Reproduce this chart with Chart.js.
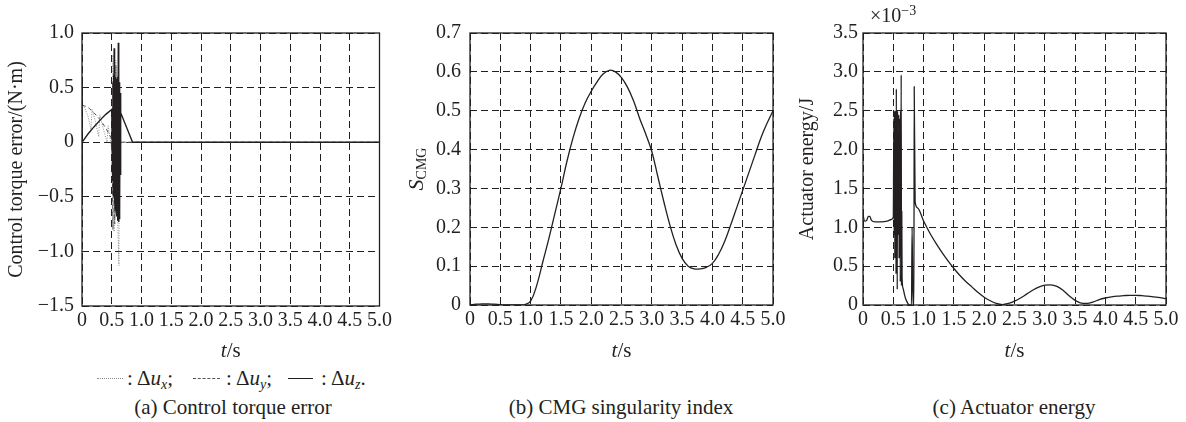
<!DOCTYPE html>
<html>
<head>
<meta charset="utf-8">
<script src="https://cdn.jsdelivr.net/npm/chart.js@4/dist/chart.umd.min.js"></script>
<style>
  body { margin: 0; background: #fff; width: 1186px; height: 422px; position: relative; overflow: hidden;
         font-family: "Liberation Serif", "Times New Roman", Times, "DejaVu Serif", serif; color: #231f20; }
  canvas { position: absolute; top: 0; }
  .cap { position: absolute; top: 395px; font-size: 21px; line-height: 24px; white-space: nowrap; transform: translateX(-50%); }
  .leg { position: absolute; top: 366px; font-size: 21px; line-height: 24px; white-space: nowrap; }
  .leg sub { font-size: 14px; line-height: 0; vertical-align: -4px; }
  .smp { position: absolute; top: 378px; height: 0; }
</style>
</head>
<body>
<canvas id="chartA" width="395" height="360" style="left:0"></canvas>
<canvas id="chartB" width="395" height="360" style="left:395px"></canvas>
<canvas id="chartC" width="396" height="360" style="left:790px"></canvas>

<div class="smp" style="left:97px;width:26px;border-top:1px dotted #8a8a8a"></div>
<div class="leg" style="left:127px">: Δ<i>u</i><sub><i>x</i></sub>;</div>
<div class="smp" style="left:193px;width:27px;border-top:1px dashed #555"></div>
<div class="leg" style="left:226px">: Δ<i>u</i><sub><i>y</i></sub>;</div>
<div class="smp" style="left:288px;width:25px;border-top:1.5px solid #231f20"></div>
<div class="leg" style="left:321px">: Δ<i>u</i><sub><i>z</i></sub>.</div>

<div class="cap" style="left:233px">(a) Control torque error</div>
<div class="cap" style="left:621px">(b) CMG singularity index</div>
<div class="cap" style="left:1014px">(c) Actuator energy</div>

<script>
// tick labels
const xTicks = ['0', '0.5', '1.0', '1.5', '2.0', '2.5', '3.0', '3.5', '4.0', '4.5', '5.0'];
const yTicksA = ['\u22121.5', '\u22121.0', '\u22120.5', '0', '0.5', '1.0'];
const yTicksB = ['0', '0.1', '0.2', '0.3', '0.4', '0.5', '0.6', '0.7'];
const yTicksC = ['0', '0.5', '1.0', '1.5', '2.0', '2.5', '3.0', '3.5'];

// (a) control torque error, N·m
const tUx = [0, 0.05, 0.1, 0.15, 0.17, 0.22, 0.28, 0.3, 0.36, 0.42, 0.44, 0.5, 0.52, 0.54, 0.57, 0.6, 0.62, 0.63, 0.65, 5.0];
const uX  = [0.34, 0.31, 0.24, 0.12, 0.30, 0.2, 0.05, 0.25, 0.12, 0.0, 0.15, -0.07, 0.8, -0.82, 0.75, -0.7, -1.13, 0.3, 0, 0];
const tUy = [0, 0.1, 0.2, 0.3, 0.4, 0.49, 0.505, 0.52, 0.535, 0.55, 0.57, 0.59, 0.61, 0.625, 0.64, 0.86, 5.0];
const uY  = [0.34, 0.32, 0.27, 0.21, 0.13, 0.04, -0.05, -0.8, 0.6, -0.75, 0.7, -0.6, 0.5, -0.4, 0, 0, 0];
const tUz = [0, 0.001, 0.003, 0.1, 0.2, 0.3, 0.4, 0.5,
  0.515, 0.52, 0.525, 0.53, 0.535, 0.54, 0.545, 0.55, 0.555, 0.56, 0.565, 0.57, 0.575, 0.58,
  0.585, 0.59, 0.595, 0.6, 0.605, 0.61, 0.615, 0.62, 0.625, 0.63, 0.635, 0.64, 0.645, 0.655,
  0.85, 5.0];
const uZ  = [0.6, -0.53, 0, 0.075, 0.14, 0.2, 0.255, 0.3,
  -0.35, 0.55, -0.45, 0.62, -0.5, 0.86, -0.55, 0.7, -0.6, 0.6, -0.62, 0.55, -0.65, 0.58,
  -0.68, 0.55, -0.7, 0.6, -0.72, 0.91, -0.73, 0.58, -0.7, 0.55, -0.6, 0.45, -0.3, 0.27,
  0, 0];

// (b) CMG singularity index
const tS = [0, 0.1, 0.2, 0.3, 0.4, 0.5, 0.6, 0.7, 0.8, 0.9, 1.0, 1.1, 1.2, 1.3, 1.4, 1.5, 1.6, 1.7, 1.8, 1.9,
  2.0, 2.1, 2.2, 2.3, 2.4, 2.5, 2.6, 2.7, 2.8, 2.9, 3.0, 3.1, 3.2, 3.3, 3.4, 3.5, 3.6, 3.7, 3.8, 3.9,
  4.0, 4.1, 4.2, 4.3, 4.4, 4.5, 4.6, 4.7, 4.8, 4.9, 5.0];
const sCMG = [0, 0.002, 0.003, 0.003, 0.002, 0.001, 0, 0, 0, 0.001, 0.01, 0.05, 0.11, 0.17, 0.235, 0.30, 0.37, 0.43, 0.48, 0.52,
  0.55, 0.575, 0.595, 0.604, 0.60, 0.585, 0.56, 0.525, 0.48, 0.44, 0.395, 0.33, 0.265, 0.205, 0.155, 0.12, 0.1, 0.093, 0.093, 0.097,
  0.107, 0.13, 0.163, 0.205, 0.25, 0.295, 0.34, 0.385, 0.43, 0.467, 0.50];

// (c) actuator energy, x10^-3 J
const tE = [0, 0.01, 0.03, 0.06, 0.09, 0.11, 0.14, 0.2, 0.3, 0.4, 0.47, 0.5,
  0.51, 0.515, 0.52, 0.525, 0.53, 0.535, 0.54, 0.545, 0.55, 0.555, 0.56, 0.565, 0.57, 0.575, 0.58, 0.585,
  0.59, 0.595, 0.6, 0.605, 0.61, 0.615, 0.62, 0.625, 0.63, 0.635, 0.64, 0.645,
  0.66, 0.68, 0.7, 0.72, 0.74, 0.76, 0.8, 0.81, 0.825, 0.84, 0.845, 0.86, 0.9,
  1.0, 1.1, 1.2, 1.3, 1.4, 1.5, 1.6, 1.7, 1.8, 1.9, 2.0, 2.1, 2.2, 2.3, 2.4, 2.5, 2.6, 2.7, 2.8, 2.9,
  3.0, 3.1, 3.2, 3.3, 3.4, 3.5, 3.6, 3.7, 3.8, 3.9, 4.0, 4.1, 4.2, 4.3, 4.4, 4.5, 4.6, 4.7, 4.8, 4.9, 5.0];
const energy = [1.18, 1.12, 1.08, 1.09, 1.14, 1.14, 1.09, 1.07, 1.07, 1.08, 1.10, 1.13,
  2.4, 0.9, 2.5, 0.6, 2.3, 1.0, 2.5, 0.4, 2.78, 1.0, 2.4, 0.2, 2.5, 0.9, 2.2, 1.1,
  2.45, 0.6, 2.4, 1.0, 2.3, 0.3, 2.5, 0.8, 2.96, 0.25, 1.2, 0.35,
  0.22, 0.15, 0.09, 0.05, 0.02, 0.0, 0.0, 1.0, 0.0, 0.0, 2.81, 1.33, 1.25,
  1.08, 0.93, 0.80, 0.68, 0.57, 0.47, 0.38, 0.30, 0.23, 0.16, 0.10, 0.055, 0.02, 0.005, 0.02, 0.05, 0.09, 0.14, 0.19, 0.23,
  0.255, 0.26, 0.24, 0.19, 0.12, 0.06, 0.025, 0.02, 0.04, 0.07, 0.09, 0.105, 0.115, 0.12, 0.125, 0.125, 0.12, 0.115, 0.105, 0.095, 0.08];

const ink = '#231f20';
const serif = '"Liberation Serif", "Times New Roman", Times, "DejaVu Serif", serif';
const pts = (ts, vs) => ts.map((t, i) => ({ x: t, y: vs[i] }));

// draw a row of text pieces centred on (cx, cy)
function drawRuns(ctx, runs, cx, cy, align) {
  let w = 0;
  runs.forEach(r => {
    ctx.font = (r.i ? 'italic ' : '') + (r.s || 20) + 'px ' + serif;
    r.w = ctx.measureText(r.t).width;
    w += r.w;
  });
  let x = align === 'left' ? cx : cx - w / 2;
  runs.forEach(r => {
    ctx.font = (r.i ? 'italic ' : '') + (r.s || 20) + 'px ' + serif;
    ctx.fillText(r.t, x, cy + (r.dy || 0));
    x += r.w;
  });
}

const frame = {
  id: 'frame',
  afterDraw(chart, args, o) {
    const { ctx, chartArea: a } = chart;
    ctx.save();
    ctx.strokeStyle = ink;
    ctx.lineWidth = 1.3;
    ctx.strokeRect(a.left, a.top, a.right - a.left, a.bottom - a.top);
    ctx.fillStyle = ink;
    ctx.textBaseline = 'middle';
    drawRuns(ctx, [{ t: 't', i: true, s: 21 }, { t: '/s', s: 21 }], (a.left + a.right) / 2, 351);
    ctx.save();
    ctx.translate(o.yTitleX, (a.top + a.bottom) / 2);
    ctx.rotate(-Math.PI / 2);
    drawRuns(ctx, o.yTitle, 0, 0);
    ctx.restore();
    if (o.expo) drawRuns(ctx, o.expo, a.left + 7, 17, 'left');
    ctx.restore();
  }
};

function makeChart(id, datasets, yMin, yMax, yStep, yLabels, yWidth, yPad, padRight, xHeight, frameOpts) {
  return new Chart(document.getElementById(id), {
    type: 'line',
    data: { datasets: datasets },
    options: {
      responsive: false,
      animation: false,
      layout: { padding: { top: 33, right: padRight, left: 0, bottom: 0 } },
      plugins: { legend: { display: false }, tooltip: { enabled: false }, frame: frameOpts },
      elements: { point: { radius: 0 } },
      scales: {
        x: {
          type: 'linear', min: 0, max: 5,
          grid: { color: ink, lineWidth: 1, drawTicks: false },
          border: { display: false, dash: [7, 4] },
          ticks: {
            stepSize: 0.5, autoSkip: false, maxRotation: 0, padding: 3,
            color: ink, font: { family: serif, size: 20 },
            callback: (v, i) => xTicks[i]
          },
          afterFit: s => { s.height = xHeight; }
        },
        y: {
          min: yMin, max: yMax,
          grid: { color: ink, lineWidth: 1, drawTicks: false },
          border: { display: false, dash: [7, 4] },
          ticks: {
            stepSize: yStep, padding: yPad,
            color: ink, font: { family: serif, size: 20 },
            callback: (v, i) => yLabels[i]
          },
          afterFit: s => { s.width = yWidth; }
        }
      }
    },
    plugins: [frame]
  });
}

makeChart('chartA', [
  { data: pts(tUz, uZ), borderColor: ink, borderWidth: 1.4, order: 0 },
  { data: pts(tUy, uY), borderColor: '#555', borderWidth: 1, borderDash: [4, 3], order: 1 },
  { data: pts(tUx, uX), borderColor: '#8a8a8a', borderWidth: 1, borderDash: [1, 1.5], order: 2 }
], -1.5, 1.0, 0.5, yTicksA, 82, 8, 12, 54,
  { yTitleX: 17, yTitle: [{ t: 'Control torque error/(N\u00b7m)' }] });

makeChart('chartB', [
  { data: pts(tS, sCMG), borderColor: ink, borderWidth: 1.3, tension: 0.4 }
], 0, 0.7, 0.1, yTicksB, 75, 9, 17, 55,
  { yTitleX: 22, yTitle: [{ t: 'S', i: true, s: 22 }, { t: 'CMG', s: 14, dy: 5 }] });

makeChart('chartC', [
  { data: pts(tE, energy), borderColor: ink, borderWidth: 1.3, cubicInterpolationMode: 'monotone' }
], 0, 3.5, 0.5, yTicksC, 73, 5, 20, 55,
  { yTitleX: 18, yTitle: [{ t: 'Actuator energy/J' }], expo: [{ t: '\u00d710' }, { t: '\u22123', s: 14, dy: -6 }] });
</script>
</body>
</html>
